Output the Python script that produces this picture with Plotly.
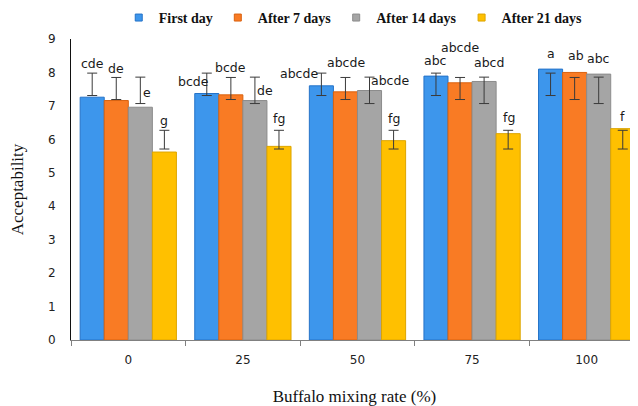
import plotly.graph_objects as go

categories = ["0", "25", "50", "75", "100"]
series_names = ["First day", "After 7 days", "After 14 days", "After 21 days"]

first_day = [7.26, 7.37, 7.60, 7.89, 8.10]
after_7 = [7.16, 7.33, 7.42, 7.69, 8.00]
after_14 = [6.96, 7.16, 7.46, 7.73, 7.95]
after_21 = [5.62, 5.79, 5.96, 6.17, 6.32]

# error bar ends (upper / lower) as drawn in the chart
err_hi_first = [7.98, 7.98, 7.98, 7.98, 7.98]
err_lo_first = [7.31, 7.31, 7.31, 7.31, 7.31]
err_hi_7 = [7.85, 7.85, 7.85, 7.85, 7.85]
err_lo_7 = [7.19, 7.19, 7.19, 7.19, 7.19]
err_hi_14 = [7.86, 7.86, 7.86, 7.86, 7.86]
err_lo_14 = [7.07, 7.07, 7.07, 7.07, 7.07]
err_hi_21 = [6.27, 6.27, 6.27, 6.27, 6.27]
err_lo_21 = [5.71, 5.71, 5.71, 5.71, 5.71]

letters_first = ["cde", "bcde", "abcde", "abc", "a"]
letters_7 = ["de", "bcde", "abcde", "abcde", "ab"]
letters_14 = ["e", "de", "abcde", "abcd", "abc"]
letters_21 = ["g", "fg", "fg", "fg", "f"]

# label nudges in pixels (style only)
label_dx = [
    [0, -13, -22, 0, 0],
    [0, 0, 1, 0, 1],
    [7, 10, 20, 5, 0],
    [0, 0, 0, 1, 0],
]
label_dy = [
    [34, 12, 12, 16, 16],
    [32, 27, 29, 35, 17],
    [15, 10, 10, 19, 16],
    [32, 28, 22, 16, 12],
]

values = [first_day, after_7, after_14, after_21]
err_hi = [err_hi_first, err_hi_7, err_hi_14, err_hi_21]
err_lo = [err_lo_first, err_lo_7, err_lo_14, err_lo_21]
letters = [letters_first, letters_7, letters_14, letters_21]

colors = ["#3D96EC", "#F97B24", "#A5A5A5", "#FFC000"]
edge_colors = ["#2573C8", "#D9620F", "#8C8C8C", "#DDA500"]

BARGAP = 0.16
n = len(values)

fig = go.Figure()
for i in range(n):
    plus = [h - v for h, v in zip(err_hi[i], values[i])]
    minus = [v - l for v, l in zip(values[i], err_lo[i])]
    fig.add_trace(go.Bar(
        x=categories, y=values[i], name=series_names[i],
        marker=dict(color=colors[i], line=dict(color=edge_colors[i], width=1)),
        error_y=dict(type="data", symmetric=False, array=plus, arrayminus=minus,
                     color="#3a3a3a", thickness=1, width=5),
        showlegend=False,
    ))
    # legend proxy
    fig.add_trace(go.Scatter(
        x=[None], y=[None], mode="markers", name=series_names[i],
        marker=dict(symbol="square", size=7, color=colors[i],
                    line=dict(color=edge_colors[i], width=1)),
    ))

annotations = []
for i in range(n):
    off = (i - (n - 1) / 2) * (1 - BARGAP) / n
    for g in range(len(categories)):
        annotations.append(dict(
            x=g + off, y=values[i][g], xref="x", yref="y",
            text=letters[i][g], showarrow=False,
            xshift=label_dx[i][g], yshift=label_dy[i][g],
            font=dict(family="DejaVu Sans", size=12.5, color="#1a1a1a"),
        ))

# page body has an 8px margin, so the figure is sized to fit the window
fig.update_layout(
    width=630, height=398,
    margin=dict(l=63, r=0, t=31, b=66, autoexpand=False),
    paper_bgcolor="white", plot_bgcolor="white",
    barmode="group", bargap=BARGAP, bargroupgap=0,
    annotations=annotations,
    legend=dict(orientation="h", x=0.548, xref="container", xanchor="center",
                y=0.975, yref="container", yanchor="middle",
                font=dict(family="Liberation Serif", size=14, color="#111", weight="bold"),
                itemwidth=30, tracegroupgap=0, bgcolor="rgba(0,0,0,0)"),
    xaxis=dict(
        type="category", range=[-0.5, 4.448], automargin=False,
        showline=True, linecolor="#808080", linewidth=1,
        ticks="outside", tickson="boundaries", ticklen=5, tickcolor="#808080",
        tickfont=dict(family="DejaVu Sans", size=12, color="#222"),
        ticklabelstandoff=9,
        showgrid=False,
        title=dict(text="Buffalo mixing rate (%)",
                   font=dict(family="Liberation Serif", size=17, color="#111"),
                   standoff=23),
    ),
    yaxis=dict(
        range=[0, 9], dtick=1, showline=True, linecolor="#111", linewidth=1,
        ticks="", showgrid=False, zeroline=False, automargin=False,
        tickfont=dict(family="DejaVu Sans", size=12, color="#222"),
        ticklabelstandoff=12,
        title=dict(text="Acceptability",
                   font=dict(family="Liberation Serif", size=17, color="#111"),
                   standoff=20),
    ),
)

fig.write_html("out.html")
